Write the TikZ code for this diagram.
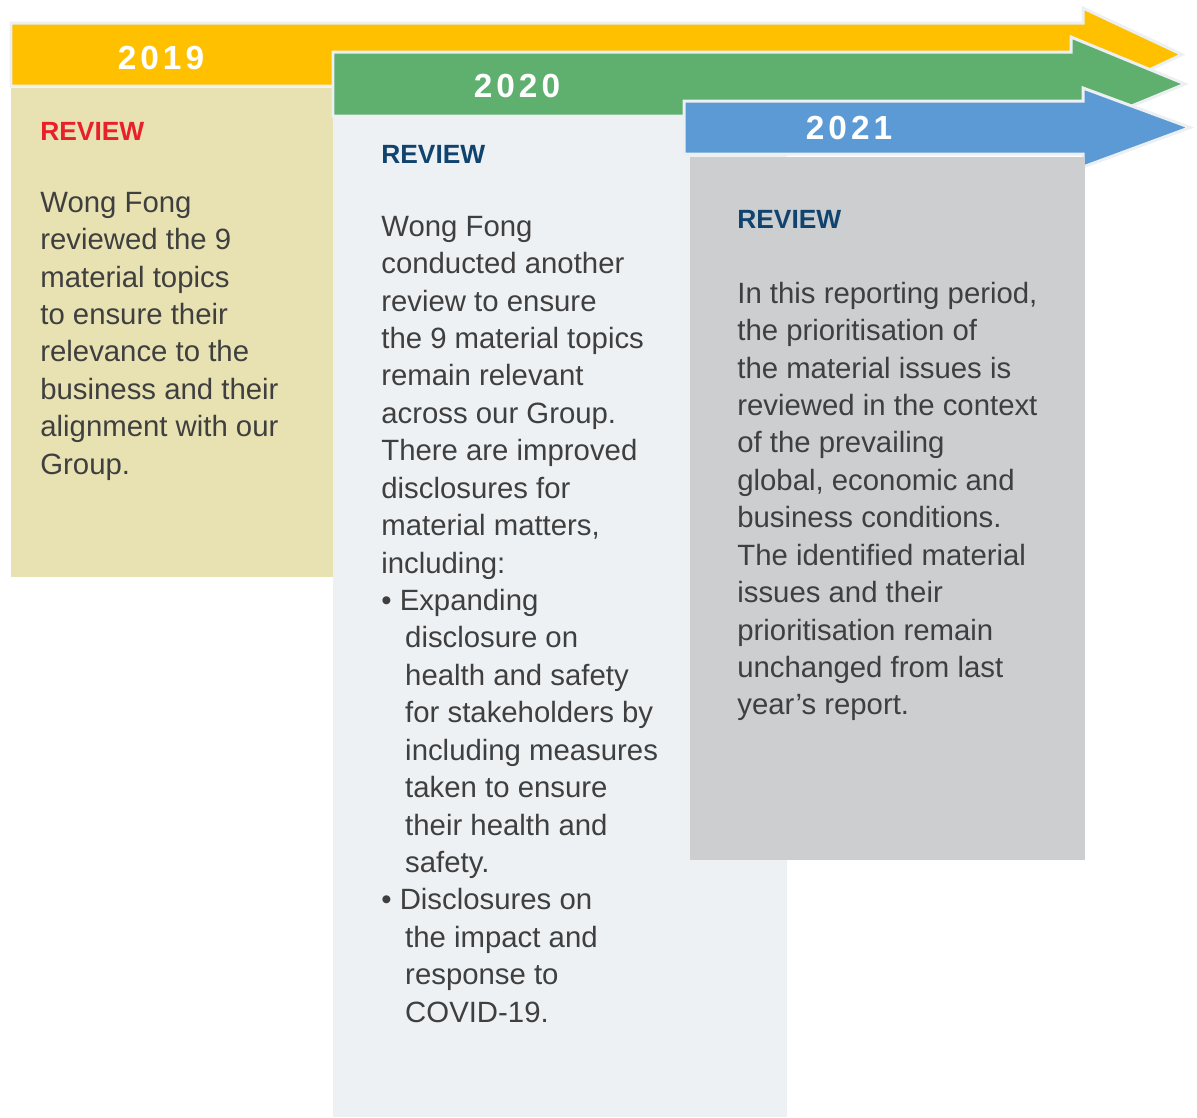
\documentclass[tikz,border=0pt]{standalone}
\usepackage{fontspec}
\setmainfont{Liberation Sans}
\newfontfamily\yearfont[LetterSpace=12]{Liberation Sans}
\usepackage{tikz}
\usepackage{xcolor}
\usetikzlibrary{positioning}
\definecolor{wfYellow}{RGB}{255, 192, 0}
\definecolor{wfYellowPale}{RGB}{232, 226, 178}
\definecolor{wfGreen}{RGB}{95, 175, 110}
\definecolor{wfBlue}{RGB}{91, 154, 213}
\definecolor{wfPale}{RGB}{238, 241, 244}
\definecolor{wfGray}{RGB}{205, 206, 208}
\definecolor{wfEdge}{RGB}{236, 240, 243}
\definecolor{wfRed}{RGB}{232, 32, 42}
\definecolor{wfNavy}{RGB}{16, 68, 111}
\definecolor{wfText}{RGB}{63, 63, 63}

\begin{document}
\begin{tikzpicture}[
        x=0.02cm, y=-0.02cm,
        band/.style={draw=wfEdge, line width=1.7pt, line join=miter},
        year/.style={anchor=base, inner sep=0pt, text=white, font=\yearfont\bfseries\fontsize{19}{19}\selectfont},
        review/.style={anchor=base west, inner sep=0pt, font=\bfseries\fontsize{15}{18}\selectfont},
        body/.style={anchor=north west, inner sep=0pt, align=left, text=wfText, font=\fontsize{16.7}{21.3}\selectfont}
    ]
        \useasboundingbox (0,0) rectangle (1197,1117);

        % 2019
        \fill[wfYellow, band] (11,23) -- (1083,23) -- (1083,8) -- (1182,54.5) -- (1083,101) -- (1083,86) -- (11,86) -- cycle;
        \fill[wfYellowPale] (11,88) rectangle (333,577);
        \node[year] (y19) at (161,69) {2019};
        \node[review, text=wfRed] (r19) at (40,140) {REVIEW};
        \node[body] (t19) at (40,185.7) {\strut Wong Fong\\
            reviewed the 9\\
            material topics\\
            to ensure their\\
            relevance to the\\
            business and their\\
            alignment with our\\
            Group.};

        % 2020
        \fill[wfGreen, band] (333,52) -- (1071,52) -- (1071,37) -- (1185,84) -- (1071,131) -- (1071,116) -- (333,116) -- cycle;
        \fill[wfPale] (333,117) rectangle (787,1117);
        \node[year] (y20) at (517,97) {2020};
        \node[review, text=wfNavy] (r20) at (381,163) {REVIEW};
        \node[body] (t20) at (381,209.7) {\strut Wong Fong\\
            conducted another\\
            review to ensure\\
            the 9 material topics\\
            remain relevant\\
            across our Group.\\
            There are improved\\
            disclosures for\\
            material matters,\\
            including:\\
            \textbullet\ Expanding\\
            \hspace*{13.6pt}disclosure on\\
            \hspace*{13.6pt}health and safety\\
            \hspace*{13.6pt}for stakeholders by\\
            \hspace*{13.6pt}including measures\\
            \hspace*{13.6pt}taken to ensure\\
            \hspace*{13.6pt}their health and\\
            \hspace*{13.6pt}safety.\\
            \textbullet\ Disclosures on\\
            \hspace*{13.6pt}the impact and\\
            \hspace*{13.6pt}response to\\
            \hspace*{13.6pt}COVID-19.};

        % 2021
        \fill[wfBlue, band] (684,101) -- (1083,101) -- (1083,88) -- (1190,127.5) -- (1083,167) -- (1083,154) -- (684,154) -- cycle;
        \fill[wfGray] (690,157) rectangle (1085,860);
        \node[year] (y21) at (849,139) {2021};
        \node[review, text=wfNavy] (r21) at (737,228) {REVIEW};
        \node[body] (t21) at (737,276.7) {\strut In this reporting period,\\
            the prioritisation of\\
            the material issues is\\
            reviewed in the context\\
            of the prevailing\\
            global, economic and\\
            business conditions.\\
            The identified material\\
            issues and their\\
            prioritisation remain\\
            unchanged from last\\
            year’s report.};
    \end{tikzpicture}
\end{document}
